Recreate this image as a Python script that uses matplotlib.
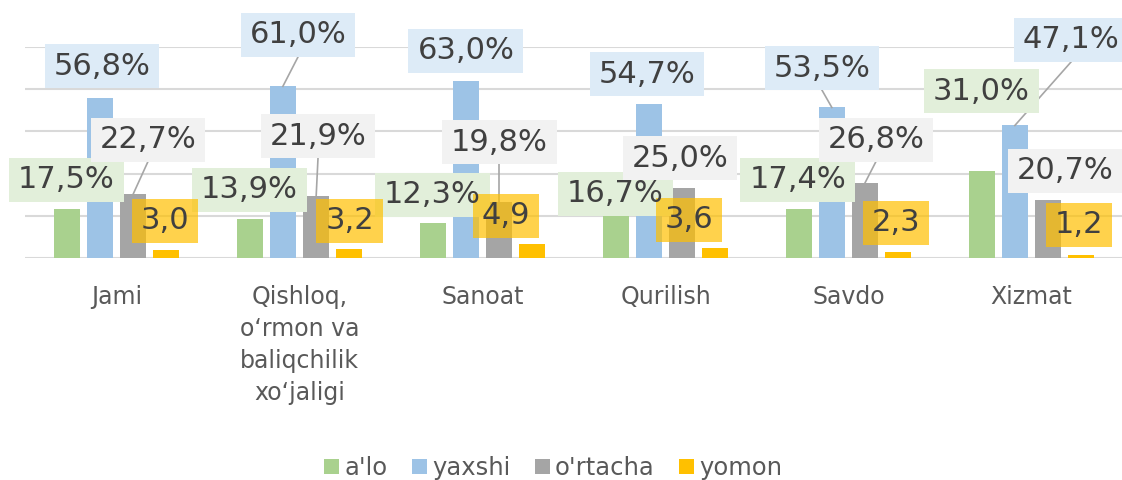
import numpy as np
import matplotlib.pyplot as plt
from matplotlib.patches import Rectangle
from matplotlib.transforms import IdentityTransform

categories = ['Jami', 'Qishloq,\no\u2018rmon va\nbaliqchilik\nxo\u2018jaligi', 'Sanoat',
              'Qurilish', 'Savdo', 'Xizmat']
series_names = ["a'lo", 'yaxshi', "o'rtacha", 'yomon']
alo = [17.5, 13.9, 12.3, 16.7, 17.4, 31.0]
yaxshi = [56.8, 61.0, 63.0, 54.7, 53.5, 47.1]
ortacha = [22.7, 21.9, 19.8, 25.0, 26.8, 20.7]
yomon = [3.0, 3.2, 4.9, 3.6, 2.3, 1.2]
values = [alo, yaxshi, ortacha, yomon]

# label placement (x shift in category units, label centre y in %)
label_dx = [
    [0.0, 0.0, 0.0, 0.0, -0.005, 0.0],
    [0.012, 0.083, 0.0, -0.01, -0.054, 0.307],
    [0.081, 0.01, 0.0, -0.012, 0.059, 0.092],
    [-0.008, 0.0, -0.145, -0.145, -0.013, -0.013],
]
label_y = [
    [27.9, 24.3, 22.5, 22.9, 27.9, 59.3],
    [68.2, 79.3, 73.6, 65.4, 67.5, 77.5],
    [42.1, 43.2, 41.1, 35.4, 42.1, 31.1],
    [13.2, 13.2, 15.0, 13.6, 12.5, 11.8],
]
leaders = {(2, 0), (1, 1), (2, 1), (2, 2), (1, 4), (2, 4), (1, 5)}

bar_colors = ['#A9D18E', '#9DC3E6', '#A5A5A5', '#FFC000']
box_colors = ['#E2EFDA', '#DDEBF7', '#F2F2F2', '#FFC000']
box_alpha = [1.0, 1.0, 1.0, 0.7]

fig = plt.figure(figsize=(11.22, 4.8), dpi=100)
ax = fig.add_axes([25 / 1122, 222 / 480, 1098 / 1122, 211 / 480])

x = np.arange(len(categories))
step = 0.182
width = 0.142
ax.set_xlim(-0.5, len(categories) - 0.5)
ax.set_ylim(0, 75)

box_h = 44  # label box height, px
labels = []
for j, vals in enumerate(values):
    xs = x + (j - 1.5) * step
    ax.bar(xs, vals, width, color=bar_colors[j], label=series_names[j], zorder=2)
    for i, v in enumerate(vals):
        if j == 3:
            txt = f'{v:.1f}'.replace('.', ',')
        else:
            txt = f'{v:.1f}%'.replace('.', ',')
        lx, ly = xs[i] + label_dx[j][i], label_y[j][i]
        t = ax.text(lx, ly, txt, ha='center', va='center', fontsize=22,
                    color='#404040', zorder=6, clip_on=False)
        labels.append((t, j))
        if (j, i) in leaders:
            px, py = ax.transData.transform((lx, ly))
            _, yb = ax.transData.inverted().transform((px, py - box_h / 2))
            ax.plot([lx, xs[i]], [yb, v], color='#A6A6A6', lw=1.2, zorder=3,
                    clip_on=False)

ax.set_yticks(np.arange(0, 76, 15))
ax.yaxis.grid(True, color='#D9D9D9', lw=1.5, zorder=0)
ax.set_axisbelow(True)
ax.tick_params(axis='y', left=False, labelleft=False)
ax.tick_params(axis='x', bottom=False, pad=16)
ax.set_xticks(x)
ax.set_xticklabels(categories, fontsize=17, color='#595959', linespacing=1.42)
for s in ax.spines.values():
    s.set_visible(False)

ax.legend(loc='center', bbox_to_anchor=(0.481, -0.995), ncol=4, frameon=False,
          fontsize=17.5, labelcolor='#595959', handlelength=0.62, handleheight=0.62,
          handletextpad=0.22, columnspacing=1.0)

# boxes behind the value labels, sized from the rendered text
fig.canvas.draw()
renderer = fig.canvas.get_renderer()
for t, j in labels:
    bb = t.get_window_extent(renderer)
    cx = (bb.x0 + bb.x1) / 2
    cy = (bb.y0 + bb.y1) / 2
    w = bb.width + 18
    ax.add_patch(Rectangle((cx - w / 2, cy - box_h / 2), w, box_h,
                           transform=IdentityTransform(), fc=box_colors[j],
                           ec='none', alpha=box_alpha[j], zorder=5, clip_on=False))

plt.savefig('out.png', dpi=100)
